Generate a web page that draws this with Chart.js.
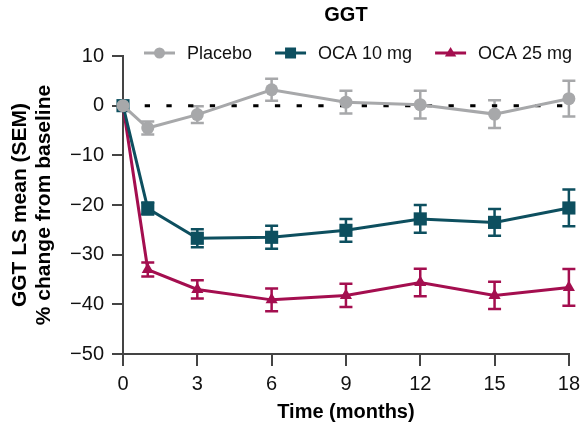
<!DOCTYPE html>
<html>
<head>
<meta charset="utf-8">
<script src="https://cdn.jsdelivr.net/npm/chart.js@4.4.1/dist/chart.umd.min.js"></script>
<style>
    html, body { margin: 0; padding: 0; background: #ffffff; }
    #wrap { position: relative; width: 586px; height: 422px; }
</style>
</head>
<body>
<div id="wrap"><canvas id="ggtChart"></canvas></div>
<script>
const months = [0, 1, 3, 6, 9, 12, 15, 18];
const xTicks = [0, 3, 6, 9, 12, 15, 18];

const placebo = [0, -4.5, -1.8, 3.2, 0.7, 0.2, -1.7, 1.4];
const placeboSem = [0, 1.3, 1.7, 2.2, 2.3, 2.8, 2.8, 3.6];

const oca10 = [0, -20.7, -26.7, -26.5, -25.1, -22.8, -23.5, -20.6];
const oca10Sem = [0, 1.2, 1.8, 2.3, 2.3, 2.8, 2.7, 3.7];

const oca25 = [0, -33.0, -37.0, -39.1, -38.2, -35.6, -38.2, -36.6];
const oca25Sem = [0, 1.4, 1.85, 2.3, 2.35, 2.75, 2.75, 3.7];

const FONT = 'Arial, "Liberation Sans", sans-serif';
const colors = { placebo: '#a7a8aa', oca10: '#0d4f5f', oca25: '#a40e4f' };

function toPoints(values) {
    return months.map((m, i) => ({ x: m, y: values[i] }));
}

function drawMarker(ctx, style, x, y, r) {
    ctx.beginPath();
    if (style === 'rect') {
        ctx.rect(x - r, y - r, r * 2, r * 2);
    } else if (style === 'triangle') {
        ctx.moveTo(x, y - r);
        ctx.lineTo(x + r * 0.95, y + r * 0.6);
        ctx.lineTo(x - r * 0.95, y + r * 0.6);
        ctx.closePath();
    } else {
        ctx.arc(x, y, r, 0, Math.PI * 2);
    }
    ctx.fill();
}

// SEM whiskers, drawn from each dataset's own values through the scales
const errorBarPlugin = {
    id: 'errorBars',
    beforeDatasetsDraw(chart) {
        const { ctx, scales: { x, y } } = chart;
        ctx.save();
        chart.data.datasets.forEach((ds) => {
            if (!ds.errors) return;
            ctx.strokeStyle = ds.borderColor;
            ctx.lineWidth = 2.5;
            ds.data.forEach((pt, j) => {
                const e = ds.errors[j];
                if (!e) return;
                const px = x.getPixelForValue(pt.x);
                const top = y.getPixelForValue(pt.y + e);
                const bot = y.getPixelForValue(pt.y - e);
                ctx.beginPath();
                ctx.moveTo(px, top);
                ctx.lineTo(px, bot);
                ctx.moveTo(px - 6.5, top);
                ctx.lineTo(px + 6.5, top);
                ctx.moveTo(px - 6.5, bot);
                ctx.lineTo(px + 6.5, bot);
                ctx.stroke();
            });
        });
        ctx.restore();
    }
};

// line + marker legend sitting just over the top of the plot
const lineLegendPlugin = {
    id: 'lineLegend',
    afterDraw(chart) {
        const ctx = chart.ctx;
        const y = 53;
        let x = 144;
        ctx.save();
        ctx.font = '18px ' + FONT;
        ctx.textBaseline = 'middle';
        ctx.textAlign = 'left';
        chart.data.datasets.forEach((ds) => {
            if (!ds.legendMarker) return;
            ctx.strokeStyle = ds.borderColor;
            ctx.fillStyle = ds.borderColor;
            ctx.lineWidth = 3;
            ctx.beginPath();
            ctx.moveTo(x, y);
            ctx.lineTo(x + 31, y);
            ctx.stroke();
            drawMarker(ctx, ds.pointStyle, x + 15.5, y, ds.legendMarker);
            ctx.fillStyle = '#111111';
            ctx.fillText(ds.label, x + 43, y + 1);
            x += 43 + ctx.measureText(ds.label).width + 23;
        });
        ctx.restore();
    }
};

const axisLine = { display: true, color: '#444444', width: 2 };

new Chart(document.getElementById('ggtChart'), {
    type: 'line',
    data: {
        datasets: [
            {
                label: 'Placebo',
                data: toPoints(placebo),
                errors: placeboSem,
                borderColor: colors.placebo,
                backgroundColor: colors.placebo,
                borderWidth: 3,
                pointStyle: 'circle',
                pointRadius: 6.5,
                pointBorderWidth: 0,
                legendMarker: 5.5,
                clip: false
            },
            {
                label: 'OCA 10 mg',
                data: toPoints(oca10),
                errors: oca10Sem,
                borderColor: colors.oca10,
                backgroundColor: colors.oca10,
                borderWidth: 3,
                pointStyle: 'rect',
                pointRadius: 9.3,
                pointBorderWidth: 0,
                legendMarker: 5.5,
                clip: false
            },
            {
                label: 'OCA 25 mg',
                data: toPoints(oca25),
                errors: oca25Sem,
                borderColor: colors.oca25,
                backgroundColor: colors.oca25,
                borderWidth: 3,
                pointStyle: 'triangle',
                pointRadius: 7,
                pointBorderWidth: 0,
                legendMarker: 6,
                clip: false
            },
            {
                label: 'baseline',
                data: [{ x: 0, y: 0 }, { x: 18, y: 0 }],
                borderColor: '#000000',
                borderWidth: 3,
                borderDash: [5.3, 16.4],
                pointRadius: 0,
                order: 10
            }
        ]
    },
    options: {
        responsive: true,
        maintainAspectRatio: false,
        animation: false,
        layout: { padding: { left: 0, right: 14, top: 0, bottom: 0 } },
        plugins: {
            legend: { display: false },
            tooltip: { enabled: false },
            title: {
                display: true,
                text: 'GGT',
                fullSize: false,
                color: '#000000',
                font: { family: FONT, size: 20, weight: 'bold', lineHeight: 1.2 },
                padding: { top: 3, bottom: 29 }
            }
        },
        scales: {
            x: {
                type: 'linear',
                min: 0,
                max: 18,
                afterBuildTicks(scale) {
                    scale.ticks = xTicks.map((v) => ({ value: v }));
                },
                afterFit(scale) { scale.height = 68; },
                grid: { display: true, drawOnChartArea: false, drawTicks: true, tickLength: 12, color: '#444444', lineWidth: 2 },
                border: axisLine,
                ticks: { color: '#111111', font: { family: FONT, size: 20 }, padding: 6, maxRotation: 0 },
                title: {
                    display: true,
                    text: 'Time (months)',
                    color: '#000000',
                    font: { family: FONT, size: 20, weight: 'bold', lineHeight: 1 },
                    padding: { top: 0, bottom: 0 }
                }
            },
            y: {
                min: -50,
                max: 10,
                ticks: {
                    stepSize: 10,
                    color: '#111111',
                    font: { family: FONT, size: 20 },
                    padding: 8,
                    callback: (v) => String(v).replace('-', '\u2212')
                },
                afterFit(scale) { scale.width = 123; },
                grid: { display: true, drawOnChartArea: false, drawTicks: true, tickLength: 11, color: '#444444', lineWidth: 2 },
                border: axisLine,
                title: {
                    display: true,
                    text: ['GGT LS mean (SEM)', '% change from baseline'],
                    color: '#000000',
                    font: { family: FONT, size: 21, weight: 'bold', lineHeight: 1.143 },
                    padding: { top: 8, bottom: 0 }
                }
            }
        }
    },
    plugins: [errorBarPlugin, lineLegendPlugin]
});
</script>
</body>
</html>
